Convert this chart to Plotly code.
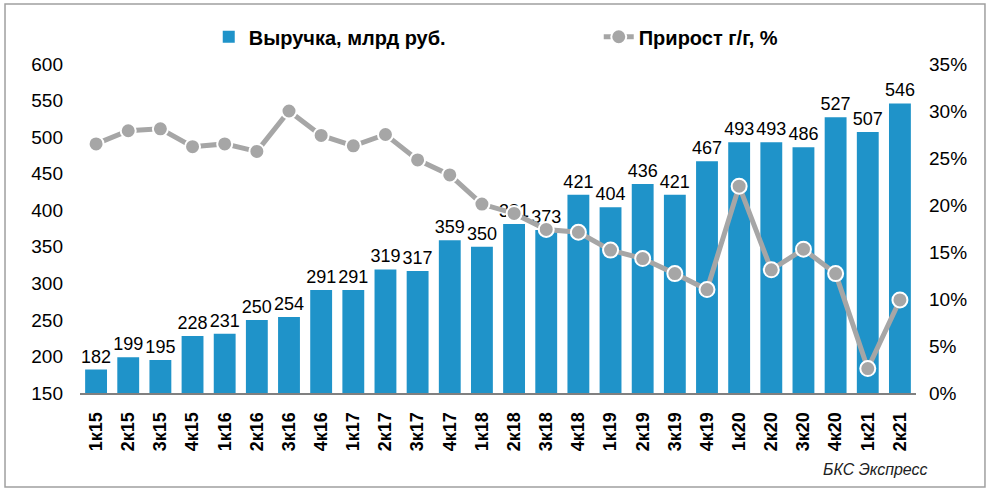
import plotly.graph_objects as go

# quarters
quarters = ["1к15", "2к15", "3к15", "4к15", "1к16", "2к16", "3к16", "4к16",
            "1к17", "2к17", "3к17", "4к17", "1к18", "2к18", "3к18", "4к18",
            "1к19", "2к19", "3к19", "4к19", "1к20", "2к20", "3к20", "4к20",
            "1к21", "2к21"]

# revenue, bn rub
revenue = [182, 199, 195, 228, 231, 250, 254, 291, 291, 319, 317, 359, 350,
           381, 373, 421, 404, 436, 421, 467, 493, 493, 486, 527, 507, 546]

# y/y growth, %
growth = [26.5, 27.9, 28.1, 26.2, 26.5, 25.7, 30.0, 27.4, 26.3, 27.5, 24.8,
          23.2, 20.1, 19.1, 17.4, 17.1, 15.2, 14.3, 12.7, 11.0, 22.0, 13.1,
          15.3, 12.7, 2.6, 9.9]

BLUE = "#1F93C9"
GRAY = "#A6A6A6"

fig = go.Figure()

fig.add_trace(go.Bar(
    x=quarters, y=revenue,
    name="<b>Выручка, млрд руб.</b>",
    marker=dict(color=BLUE, line=dict(width=0)),
    text=[str(v) for v in revenue],
    textposition="outside",
    constraintext="none",
    textfont=dict(size=18, color="black"),
    cliponaxis=False,
))

fig.add_trace(go.Scatter(
    x=quarters, y=[g / 100 for g in growth],
    name="<b>Прирост г/г, %</b>",
    mode="lines+markers",
    line=dict(color=GRAY, width=5),
    marker=dict(color=GRAY, size=15, line=dict(color="white", width=2)),
    yaxis="y2",
    cliponaxis=False,
))

fig.update_layout(
    width=989, height=490,
    margin=dict(l=80, r=73, t=64, b=97, autoexpand=False),
    paper_bgcolor="white",
    plot_bgcolor="white",
    font=dict(family="Arial, Liberation Sans, sans-serif", size=18, color="black"),
    bargap=0.32,
    showlegend=True,
    legend=dict(
        orientation="h", x=0.154, xanchor="left",
        yref="container", y=0.925, yanchor="middle",
        font=dict(size=20), entrywidth=345, entrywidthmode="pixels",
        bgcolor="rgba(0,0,0,0)",
    ),
    xaxis=dict(
        range=[-0.5, len(quarters) - 0.5],
        tickangle=-90,
        tickfont=dict(size=18),
        tickprefix="<b>", ticksuffix="</b>",
        ticklabelstandoff=10,
        showline=True, linecolor="#808080", linewidth=2,
        showgrid=False, ticks="",
        automargin=False,
    ),
    yaxis=dict(
        range=[150, 600], dtick=50,
        showgrid=False, zeroline=False, showline=False,
        tickfont=dict(size=19), ticks="",
        ticklabelstandoff=16,
        automargin=False,
    ),
    yaxis2=dict(
        overlaying="y", side="right",
        range=[0, 0.35], dtick=0.05, tickformat=".0%",
        showgrid=False, zeroline=False, showline=False,
        tickfont=dict(size=19), ticks="",
        ticklabelstandoff=12,
        automargin=False,
    ),
    shapes=[dict(
        type="rect", xref="paper", yref="paper",
        x0=-0.0897, x1=1.0825, y0=-0.286, y1=1.182,
        line=dict(color="#A0A0A0", width=1.5),
    )],
    annotations=[dict(
        text="<i>БКС Экспресс</i>", xref="paper", yref="paper",
        x=1.017, y=-0.234, xanchor="right", yanchor="middle",
        showarrow=False, font=dict(size=16, color="#222222"),
    )],
)

fig.write_html("out.html", config={"displayModeBar": False},
               post_script="document.body.style.margin='0';")
